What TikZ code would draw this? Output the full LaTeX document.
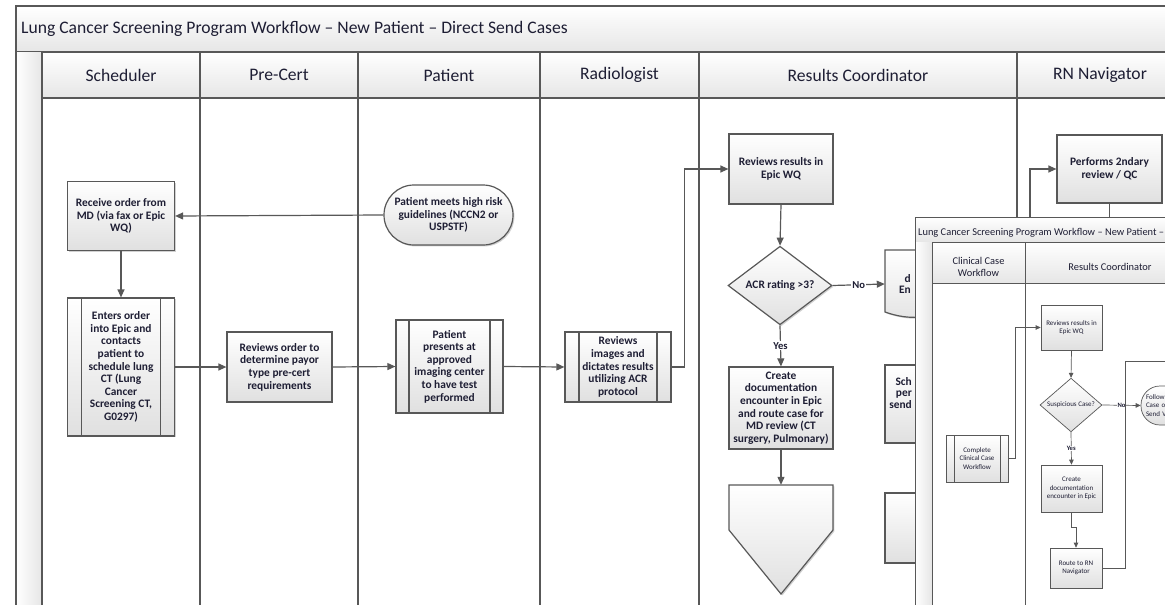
\documentclass[tikz,border=0pt]{standalone}
\usepackage{fontspec}
\setmainfont{Carlito}
\usetikzlibrary{arrows.meta,shapes.geometric,shadows}
\definecolor{ink}{RGB}{30,30,52}
\definecolor{rule}{RGB}{88,88,88}
\definecolor{bandlo}{RGB}{230,230,230}
\definecolor{boxlo}{RGB}{224,224,224}
\tikzset{
  ln/.style={draw=rule, line width=1.4pt},
  band/.style={ln, top color=white, bottom color=bandlo},
  hdr/.style={text=ink, font=\fontsize{17.6}{19}\selectfont, inner sep=0pt, align=center},
  box/.style={draw=rule, line width=1.2pt, top color=white, bottom color=boxlo,
    text=ink, font=\bfseries\fontsize{11.4}{12.6}\selectfont, align=center, inner sep=1pt,
    drop shadow={shadow xshift=1.4pt, shadow yshift=-1.4pt, fill=black, opacity=0.18}},
  subproc/.style={box, path picture={
      \draw[rule, line width=1.2pt] ([xshift=#1]path picture bounding box.north west) -- ([xshift=#1]path picture bounding box.south west);
      \draw[rule, line width=1.2pt] ([xshift=-#1]path picture bounding box.north east) -- ([xshift=-#1]path picture bounding box.south east);}},
  subproc/.default=14pt,
  term/.style={box, rounded corners=#1},
  decide/.style={box, diamond, inner sep=0pt},
  flow/.style={draw=rule, line width=1.2pt, -{Triangle[length=8pt,width=7pt]}},
  lbl/.style={fill=white, text=ink, font=\bfseries\fontsize{10.6}{12}\selectfont, inner sep=1pt},
  frag/.style={text=ink, font=\bfseries\fontsize{11.4}{11.4}\selectfont, align=right, inner sep=0pt},
  % small-scale versions for the second sheet
  iln/.style={draw=rule, line width=0.7pt},
  iband/.style={iln, top color=white, bottom color=bandlo},
  ihdr/.style={text=ink, font=\fontsize{10.4}{12}\selectfont, inner sep=0pt, align=center},
  ibox/.style={draw=rule, line width=0.7pt, top color=white, bottom color=boxlo,
    text=ink, font=\fontsize{7}{8.4}\selectfont, align=center, inner sep=1pt},
  isub/.style={ibox, path picture={
      \draw[rule, line width=0.7pt] ([xshift=#1]path picture bounding box.north west) -- ([xshift=#1]path picture bounding box.south west);
      \draw[rule, line width=0.7pt] ([xshift=-#1]path picture bounding box.north east) -- ([xshift=-#1]path picture bounding box.south east);}},
  isub/.default=8pt,
  iflow/.style={draw=rule, line width=0.7pt, -{Triangle[length=5pt,width=4.5pt]}},
  ilbl/.style={fill=white, text=ink, font=\bfseries\fontsize{6.6}{7}\selectfont, inner sep=0.5pt},
}
\begin{document}
\begin{tikzpicture}[x=1pt,y=-1pt]
\useasboundingbox (0,0) rectangle (1165,605);
\clip (0,0) rectangle (1165,605);
\fill[white] (0,0) rectangle (1165,605);

% ---------- swimlane frame ----------
\draw[band] (16,6) rectangle (1220,52);
\node[hdr, anchor=west] (title) at (21,29) {Lung Cancer Screening Program Workflow -- New Patient -- Direct Send Cases};
\shade[left color=white, right color=bandlo] (16,52) rectangle (42,700);
\draw[ln] (16,6) -- (16,700);
\draw[ln] (42,52) -- (42,700);
\draw[band] (42,52) rectangle (1220,98);
\foreach \lx in {200,358,540,699,1017} \draw[ln] (\lx,52) -- (\lx,700);

\node[hdr] (hSched) at (121,75) {Scheduler};
\node[hdr] (hPre) at (279,75) {Pre-Cert};
\node[hdr] (hPat) at (449,75) {Patient};
\node[hdr] (hRad) at (619.5,75) {Radiologist};
\node[hdr] (hRes) at (858,75) {Results Coordinator};
\node[hdr] (hRN) at (1100,75) {RN Navigator};

% ---------- process steps ----------
\node[box, minimum width=107pt, minimum height=69pt] (recv) at (121,216)
  {Receive order from\\MD (via fax or Epic\\WQ)};
\node[subproc, minimum width=107pt, minimum height=138pt] (enter) at (121,367)
  {Enters order\\into Epic and\\contacts\\patient to\\schedule lung\\CT (Lung\\Cancer\\Screening CT,\\G0297)};
\node[box, minimum width=105pt, minimum height=70pt] (precert) at (279.5,367)
  {Reviews order to\\determine payor\\type pre-cert\\requirements};
\node[term=30pt, minimum width=129pt, minimum height=60pt] (pmeets) at (448.5,215)
  {Patient meets high risk\\guidelines (NCCN2 or\\USPSTF)};
\node[subproc=13pt, minimum width=107pt, minimum height=93pt] (ppres) at (449.5,366.5)
  {Patient\\presents at\\approved\\imaging center\\to have test\\performed};
\node[subproc, minimum width=106pt, minimum height=70pt] (rimg) at (618,367)
  {Reviews\\images and\\dictates results\\utilizing ACR\\protocol};
\node[box, minimum width=104pt, minimum height=70pt] (rres) at (781,169)
  {Reviews results in\\Epic WQ};
\node[decide, minimum width=104pt, minimum height=69pt] (acr) at (780,285.5) {ACR rating >3?};
\node[box, minimum width=104pt, minimum height=82pt] (cdoc) at (781,408)
  {Create\\documentation\\encounter in Epic\\and route case for\\MD review (CT\\surgery, Pulmonary)};

% off-page connector
\node[minimum width=104pt, minimum height=109pt, inner sep=0pt] (offp) at (781,539.5) {};
\path[box] (729,485) -- (833,485) -- (833,530) -- (781,594) -- (729,530) -- cycle;

% document shape and further steps, partly behind the second sheet
\node[minimum width=105pt, minimum height=68pt, inner sep=0pt] (docA) at (937.5,284) {};
\path[box] (885,250) -- (995,250) -- (995,306) .. controls (960,296) and (935,330) .. (885,312) -- cycle;
\node[frag, anchor=east] (docT) at (911,284) {d\\En};
\node[box, minimum width=105pt, minimum height=78pt] (sch) at (937.5,404) {};
\node[frag, anchor=east] (schT) at (912,393) {Sch\\per\\send};
\node[box, minimum width=105pt, minimum height=70pt] (blank) at (937.5,528) {};

\node[box, minimum width=105pt, minimum height=68pt] (rn) at (1109.5,169)
  {Performs 2ndary\\review / QC};
\coordinate (rnIn) at (1030,260);
\coordinate (rnOut) at (1109.5,260);

% ---------- connectors ----------
\draw[flow] (pmeets.west) -- (recv.east);
\draw[flow] (recv.south) -- (enter.north);
\draw[flow] (enter.east) -- (precert.west);
\draw[flow] (precert.east) -- (ppres.west);
\draw[flow] (ppres.east) -- (rimg.west);
\draw[flow] (rimg.east) -- ++(13,0) |- (rres.west);
\draw[flow] (rres.south) -- (acr.north);
\draw[flow] (acr.east) -- node[lbl] {No} (docA.west);
\draw[flow] (acr.south) -- node[lbl] {Yes} (cdoc.north);
\draw[flow] (cdoc.south) -- (offp.north);
\draw[flow] (rnIn) |- (rn.west);
\draw[draw=rule, line width=1.2pt] (rn.south) -- (rnOut);

% ---------- second sheet ----------
\fill[white] (915,217) rectangle (1220,700);
\draw[iband] (915,217) rectangle (1220,242);
\node[ihdr, anchor=west] (ititle) at (918,233) {Lung Cancer Screening Program Workflow -- New Patient --};
\shade[left color=white, right color=bandlo] (915,242) rectangle (932,700);
\draw[iln] (915,217) -- (915,700);
\draw[iln] (932,242) -- (932,700);
\draw[iband] (932,242) rectangle (1220,283);
\draw[iln] (1025,242) -- (1025,700);
\node[ihdr] (ih1) at (978.5,267) {Clinical Case\\Workflow};
\node[ihdr] (ih2) at (1110,267) {Results Coordinator};

\node[ibox, minimum width=61pt, minimum height=45pt] (irev) at (1071.5,327.5) {Reviews results in\\Epic WQ};
\node[ibox, diamond, inner sep=0pt, minimum width=62pt, minimum height=45pt] (isusp) at (1071,405) {Suspicious Case?};
\node[ibox, minimum width=61pt, minimum height=47pt] (icreate) at (1071.5,488.5) {Create\\documentation\\encounter in Epic};
\node[ibox, minimum width=52pt, minimum height=40pt] (iroute) at (1076,568) {Route to RN\\Navigator};
\node[isub, minimum width=62pt, minimum height=47pt] (iccw) at (977,458.5) {Complete\\Clinical Case\\Workflow};
\node[ibox, rounded corners=19pt, minimum width=74pt, minimum height=39pt, text width=64pt, align=left] (ifollow) at (1178,405.5) {Follow\\Case o\\Send V};
\coordinate (iOut) at (1180,361);

\draw[iflow] (iccw.east) -- ++(7,0) |- (irev.west);
\draw[iflow] (irev.south) -- (isusp.north);
\draw[iflow] (isusp.east) -- node[ilbl] {No} (ifollow.west);
\draw[iflow] (isusp.south) -- node[ilbl] {Yes} (icreate.north);
\draw[iflow] (icreate.south) -- ++(0,15) -| (iroute.north);
\draw[iln] (iroute.east) -- ++(23,0) |- (iOut);
\end{tikzpicture}
\end{document}
